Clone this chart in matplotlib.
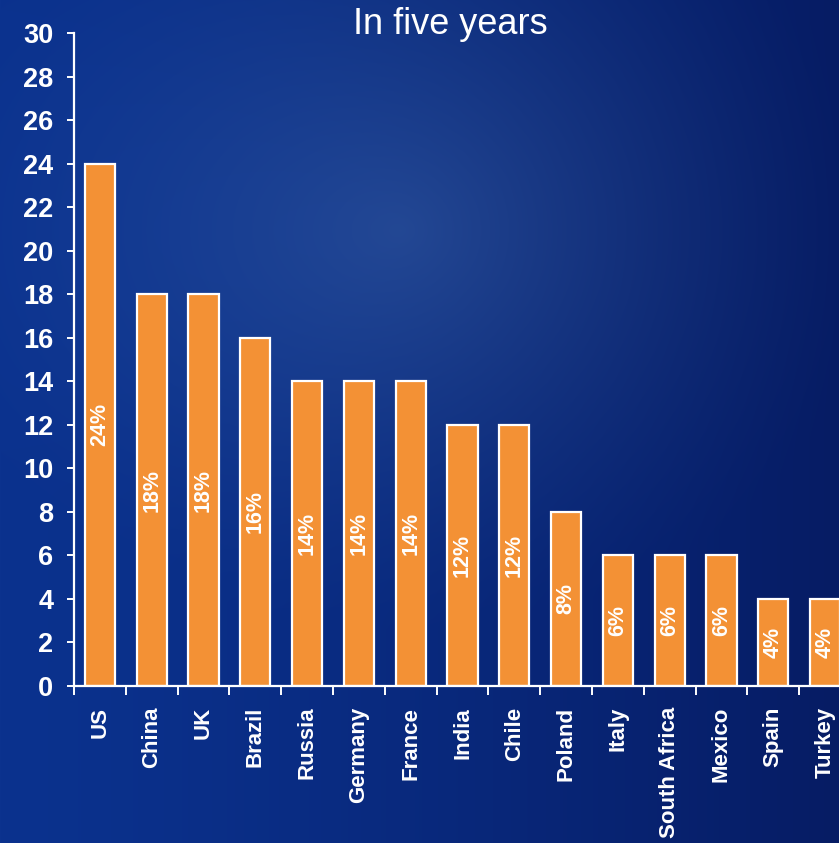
import numpy as np
import matplotlib
matplotlib.use("Agg")
import matplotlib.pyplot as plt

countries = ["US", "China", "UK", "Brazil", "Russia", "Germany", "France", "India",
             "Chile", "Poland", "Italy", "South Africa", "Mexico", "Spain", "Turkey"]
shares = [24, 18, 18, 16, 14, 14, 14, 12, 12, 8, 6, 6, 6, 4, 4]
yticks = list(range(0, 31, 2))

plt.rcParams['font.family'] = ['Liberation Sans', 'DejaVu Sans']

W, H = 839, 843
fig = plt.figure(figsize=(W / 100, H / 100), dpi=100)

# blue background with a soft highlight near the top middle
yy, xx = np.mgrid[0:H, 0:W]
t = (xx / W) ** 1.3
left = np.array([11, 50, 142]) / 255
right = np.array([6, 28, 100]) / 255
bg = left[None, None, :] * (1 - t[..., None]) + right[None, None, :] * t[..., None]
r = np.hypot(xx - 400, (yy - 230) * 1.2) / 480
h = np.clip(1 - r, 0, 1) ** 1.3
bg = bg + h[..., None] * (np.array([26, 30, 22]) / 255)[None, None, :]
bg = np.clip(bg, 0, 1)
bgax = fig.add_axes([0, 0, 1, 1], zorder=-1)
bgax.imshow(bg, aspect="auto", extent=[0, 1, 0, 1])
bgax.axis("off")

ax = fig.add_axes([74 / W, (H - 686) / H, 777 / W, (686 - 33) / H])
ax.patch.set_alpha(0)
x = np.arange(len(countries))
ax.bar(x, shares, width=0.58, color="#F39135", edgecolor="white", linewidth=1.6, zorder=2)
for xi, v in zip(x, shares):
    ax.text(xi, v / 2, f"{v}%", rotation=90, ha="center", va="center",
            color="white", fontsize=15.5, fontweight="semibold", zorder=3)

ax.set_xlim(-0.5, len(countries) - 0.5)
ax.set_ylim(0, 30)
ax.set_yticks(yticks)
ax.set_yticklabels([str(v) for v in yticks], fontsize=19.5, fontweight="bold", color="white")
ax.set_xticks(x)
ax.set_xticklabels(countries, rotation=90, fontsize=16, fontweight="bold", color="white",
                   va="top", ha="center")
ax.set_xticks(np.arange(-0.5, len(countries), 1), minor=True)
ax.tick_params(axis="x", which="major", length=0, pad=15)
ax.tick_params(axis="x", which="minor", length=6.5, width=1.4, color="white")
ax.tick_params(axis="y", length=5, width=1.4, color="white", pad=10)

for s in ["top", "right"]:
    ax.spines[s].set_visible(False)
for s in ["left", "bottom"]:
    ax.spines[s].set_color("white")
    ax.spines[s].set_linewidth(1.6)

fig.text(450 / W, 1 - 24 / H, "In five years", ha="center", va="center",
         color="white", fontsize=26)

fig.savefig("out.png", dpi=100)
